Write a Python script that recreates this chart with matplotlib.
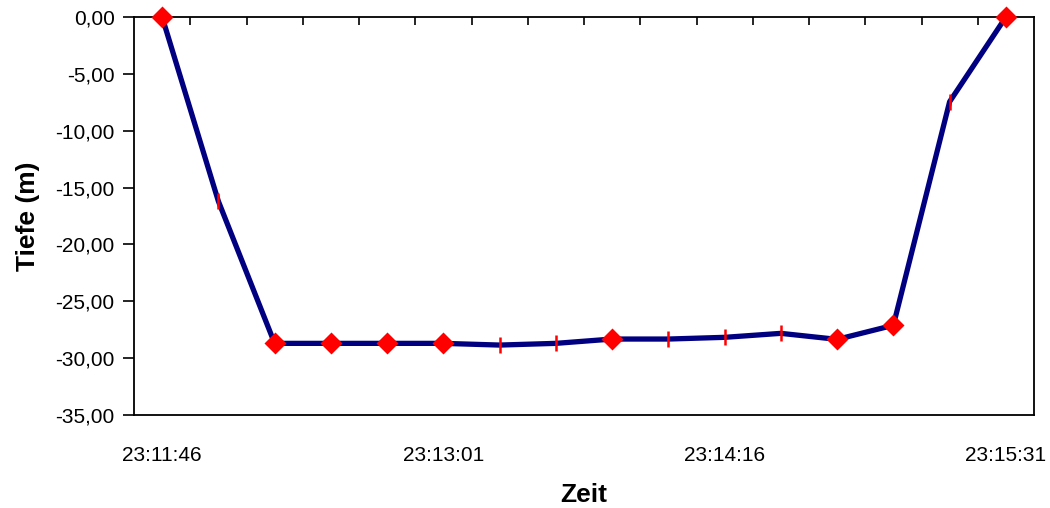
import numpy as np
import matplotlib
matplotlib.use("Agg")
import matplotlib.pyplot as plt
from matplotlib.ticker import FuncFormatter

# Zeitpunkte (alle 15 s) und Tiefen in m
zeit = ["23:11:46", "23:12:01", "23:12:16", "23:12:31", "23:12:46", "23:13:01",
        "23:13:16", "23:13:31", "23:13:46", "23:14:01", "23:14:16", "23:14:31",
        "23:14:46", "23:15:01", "23:15:16", "23:15:31"]
tiefe = [0.0, -16.2, -28.7, -28.7, -28.7, -28.7, -28.85, -28.7,
         -28.32, -28.32, -28.17, -27.82, -28.35, -27.11, -7.45, 0.0]
# Punkte mit Rautensymbol, der Rest mit Strich
messpunkte = [0, 2, 3, 4, 5, 8, 12, 13, 15]
beschriftet = [0, 5, 10, 15]

plt.rcParams['font.family'] = ['Liberation Sans', 'DejaVu Sans']

x = np.arange(len(zeit))
y = np.array(tiefe)
rest = [i for i in x if i not in messpunkte]

fig = plt.figure(figsize=(10.5, 5.08), dpi=100)
ax = fig.add_axes([134/1050, 1-415/508, 900/1050, 398/508])

ax.plot(x, y, color='#000080', lw=3.8, zorder=2, clip_on=False)
ax.plot(x[messpunkte], y[messpunkte], 'D', color='#ff0000', ms=11.5, mec='none', zorder=3, clip_on=False)
ax.plot(x[rest], y[rest], '|', color='#ff0000', ms=12, mew=1.8, zorder=3, clip_on=False)

ax.set_xlim(-0.5, len(zeit) - 0.5)
ax.set_ylim(-35, 0)
ax.set_yticks(np.arange(-35, 1, 5))
ax.yaxis.set_major_formatter(FuncFormatter(lambda v, p: ("%.2f" % v).replace('.', ',').replace('-0,00', '0,00')))
ax.tick_params(axis='y', length=8, width=1.2, pad=6, labelsize=15)

# Striche oben zwischen den Kategorien
ax.xaxis.tick_top()
ax.set_xticks(np.arange(0.5, len(zeit) - 1, 1))
ax.tick_params(axis='x', direction='in', length=6, width=1.2, labeltop=False)

sec = ax.secondary_xaxis('bottom')
sec.set_xticks(beschriftet)
sec.set_xticklabels([zeit[i] for i in beschriftet])
sec.tick_params(length=0, pad=22, labelsize=15)
sec.spines['bottom'].set_visible(False)
sec.set_xlabel('Zeit', fontsize=19, fontweight='bold', labelpad=13)

ax.set_ylabel('Tiefe (m)', fontsize=19, fontweight='bold', labelpad=11)
for s in ax.spines.values():
    s.set_linewidth(1.3)

fig.savefig('out.png', dpi=100)
